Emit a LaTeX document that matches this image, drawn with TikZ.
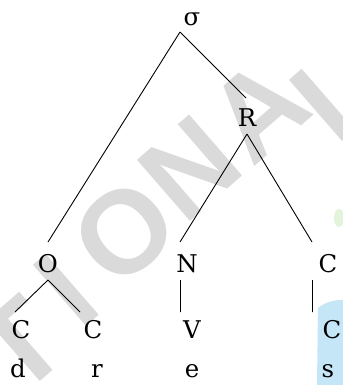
\documentclass[tikz,border=0pt]{standalone}
\usepackage{fontspec}
\setmainfont{DejaVu Serif}
\newfontfamily\wmfont{Liberation Sans}
\definecolor{wmgray}{RGB}{218,218,218}
\definecolor{wmcyan}{RGB}{196,230,247}
\definecolor{wmgreen}{RGB}{226,244,218}
\begin{document}
\begin{tikzpicture}[x=1bp,y=-1bp,
  lbl/.style={inner sep=0pt, anchor=base, font=\fontsize{24.5}{24.5}\selectfont},
  wm/.style={inner sep=0pt, text=wmgray, rotate=41, font=\wmfont\bfseries\fontsize{118}{118}\selectfont},
  edge/.style={line width=0.9bp, draw=black}]
\useasboundingbox (0,0) rectangle (343,385);
\fill[white] (0,0) rectangle (343,385);
% watermark
\node[wm] (wT) at (20,345) {T};
\node[wm] (wI) at (66,290) {I};
\node[wm] (wO) at (124,232) {O};
\node[wm] (wN) at (190,168) {N};
\node[wm] (wA) at (258,110) {A};
\node[wm] (wL) at (337,92) {L};
\fill[wmcyan] (318,308) .. controls (328,300) and (338,300) .. (343,300) -- (343,385) -- (317,385) -- cycle;
\fill[wmgreen] (339,218) ellipse (5 and 9);
% tree labels
\node[lbl] (sig) at (192,25) {σ};
\node[lbl] (R) at (247,126) {R};
\node[lbl] (O) at (48,272) {O};
\node[lbl] (N) at (187,272) {N};
\node[lbl] (Cr) at (328,272) {C};
\node[lbl] (C1) at (21,338) {C};
\node[lbl] (C2) at (93,338) {C};
\node[lbl] (V) at (192,338) {V};
\node[lbl] (C3) at (332,338) {C};
\node[lbl] (d) at (18,377) {d};
\node[lbl] (r) at (97,377) {r};
\node[lbl] (e) at (192,377) {e};
\node[lbl] (s) at (328,377) {s};
% connectors
\draw[edge] ([xshift=-12bp,yshift=-7bp]sig.base) -- ([yshift=30bp]O.base);
\draw[edge] ([xshift=-12bp,yshift=-7bp]sig.base) -- ([xshift=-1bp,yshift=28bp]R.base);
\draw[edge] ([yshift=-8bp]R.base) -- ([xshift=-7bp,yshift=30bp]N.base);
\draw[edge] ([yshift=-8bp]R.base) -- ([xshift=-16bp,yshift=30bp]Cr.base);
\draw[edge] ([yshift=-8bp]O.base) -- ([xshift=-6bp,yshift=26bp]C1.base);
\draw[edge] ([yshift=-8bp]O.base) -- ([xshift=-13bp,yshift=26bp]C2.base);
\draw[edge] ([xshift=-6.5bp,yshift=-8bp]N.base) -- ([xshift=-11.5bp,yshift=26bp]V.base);
\draw[edge] ([xshift=-15.5bp,yshift=-8bp]Cr.base) -- ([xshift=-19.5bp,yshift=26bp]C3.base);
\end{tikzpicture}
\end{document}
